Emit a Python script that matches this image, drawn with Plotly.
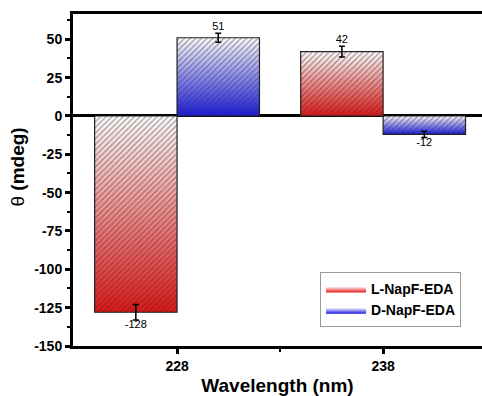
import plotly.graph_objects as go

# Circular dichroism signal per wavelength for the two enantiomers
wavelengths = ["228", "238"]
l_values = [-128, 42]
d_values = [51, -12]
l_errors = [5, 3.5]
d_errors = [3, 2]
y_ticks = [-150, -125, -100, -75, -50, -25, 0, 25, 50]

series = [
    ("L-NapF-EDA", l_values, l_errors, "rgb(228,18,18)", -0.4),
    ("D-NapF-EDA", d_values, d_errors, "rgb(22,22,228)", 0.0),
]
bar_width = 0.4
positions = list(range(len(wavelengths)))


def bar_outline(x0, v):
    """Closed rectangle from the zero line to value v."""
    x1 = x0 + bar_width
    return [x0, x1, x1, x0, x0], [0, 0, v, v, 0]


fig = go.Figure()

for name, values, errors, color, offset in series:
    for i, (x, v) in enumerate(zip(positions, values)):
        xs, ys = bar_outline(x + offset, v)
        # gradient body: colour at the bottom fading to white on top
        fig.add_trace(go.Scatter(
            x=xs, y=ys,
            mode="lines",
            fill="toself",
            line=dict(width=0, color=color),
            fillgradient=dict(type="vertical",
                              colorscale=[[0, color], [1, "white"]]),
            name=name,
            legendgroup=name,
            showlegend=(i == 0),
            hoverinfo="skip",
        ))
        # diagonal hatching and outline on top of the gradient
        fig.add_trace(go.Scatter(
            x=xs, y=ys,
            mode="lines",
            fill="toself",
            fillcolor="rgba(0,0,0,0)",
            fillpattern=dict(shape="/", fgcolor="#3a3a3a", bgcolor="rgba(0,0,0,0)",
                             size=4, solidity=0.3),
            line=dict(width=1.2, color="#222"),
            legendgroup=name,
            showlegend=False,
            hoverinfo="skip",
        ))
    # error bars at the bar tips
    fig.add_trace(go.Scatter(
        x=[x + offset + bar_width / 2 for x in positions],
        y=values,
        mode="markers",
        marker=dict(size=1, color="rgba(0,0,0,0)"),
        error_y=dict(type="data", array=errors, color="black", thickness=1.5, width=3),
        showlegend=False,
        hoverinfo="skip",
    ))
    # value labels beyond the error bars
    fig.add_trace(go.Scatter(
        x=[x + offset + bar_width / 2 for x in positions],
        y=[v + e if v >= 0 else v - e for v, e in zip(values, errors)],
        mode="text",
        text=[str(v) for v in values],
        textposition=["top center" if v >= 0 else "bottom center" for v in values],
        textfont=dict(family="Liberation Sans, Arial", size=11, color="black"),
        showlegend=False,
        hoverinfo="skip",
    ))

axis_font = dict(family="Liberation Sans, Arial", size=14, color="black", weight="bold")

fig.update_layout(
    width=482,
    height=396,
    margin=dict(l=73, r=0, t=14, b=50),
    paper_bgcolor="white",
    plot_bgcolor="white",
    font=dict(family="Liberation Sans, Arial", color="black"),
    xaxis=dict(
        range=[-0.505, 1.48],
        tickmode="array",
        tickvals=positions,
        ticktext=wavelengths,
        tickfont=axis_font,
        ticks="outside",
        ticklen=5,
        tickwidth=2.5,
        tickcolor="black",
        minor=dict(tickvals=[0.5], ticks="outside", ticklen=3, tickwidth=2, tickcolor="black"),
        showline=True,
        linecolor="black",
        linewidth=3,
        mirror=True,
        showgrid=False,
        zeroline=False,
        title=dict(text="Wavelength (nm)",
                   font=dict(family="Liberation Sans, Arial", size=19, color="black", weight="bold"),
                   standoff=7),
    ),
    yaxis=dict(
        range=[-150, 66.5],
        tickmode="array",
        tickvals=y_ticks,
        ticktext=[str(t) for t in y_ticks],
        tickfont=axis_font,
        ticks="outside",
        ticklen=5,
        tickwidth=2.5,
        tickcolor="black",
        minor=dict(dtick=12.5, tick0=0, ticks="outside", ticklen=3, tickwidth=2, tickcolor="black"),
        showline=True,
        linecolor="black",
        linewidth=3,
        showgrid=False,
        zeroline=True,
        zerolinecolor="black",
        zerolinewidth=3,
    ),
    annotations=[dict(
        text="θ <b>(mdeg)</b>",
        textangle=-90,
        xref="paper", yref="paper",
        x=-0.135, y=0.54,
        xanchor="center", yanchor="middle",
        showarrow=False,
        font=dict(family="Liberation Sans, Arial", size=19, color="black"),
    )],
    legend=dict(
        x=0.604,
        y=0.223,
        xanchor="left",
        yanchor="top",
        bgcolor="white",
        bordercolor="#999",
        borderwidth=1,
        font=dict(family="Liberation Sans, Arial", size=14, color="black", weight="bold"),
        itemwidth=40,
        tracegroupgap=0,
    ),
)

fig.write_html("out.html")
